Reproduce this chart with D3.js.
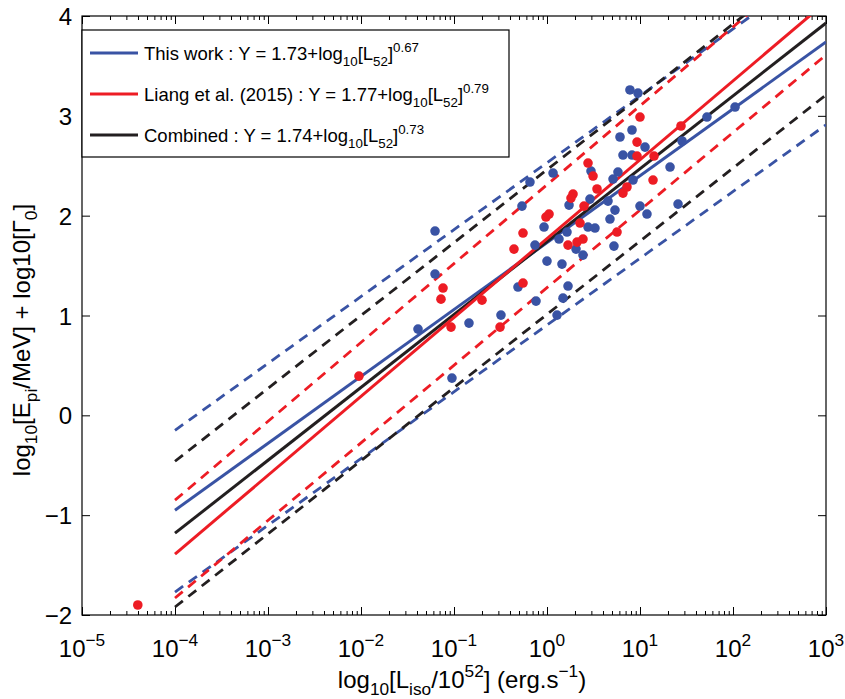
<!DOCTYPE html>
<html><head><meta charset="utf-8">
<script src="https://cdn.jsdelivr.net/npm/d3@7"></script>
<style>body{margin:0;background:#fff}svg{display:block}text{font-family:"Liberation Sans",Arial,Helvetica,sans-serif;fill:#000}</style>
</head><body>
<script>
// ---- data (log10 values) ----
const blueLogL = [-1.204,-1.204,-1.387,-0.839,-1.022,-0.495,-0.312,-0.118,0.108,0.172,0.226,0.0,0.161,-0.129,0.129,0.312,0.387,-0.032,0.215,0.441,0.516,-0.269,0.237,-0.183,0.065,0.473,0.462,0.656,0.677,0.731,0.720,0.763,0.710,0.925,1.0,1.075,0.817,0.914,1.054,0.785,0.914,0.892,0.978,1.323,1.409,1.452,1.720,2.022];
const blueY    = [1.846,1.415,0.864,0.924,0.373,1.004,1.285,1.144,1.004,1.174,1.295,1.545,1.515,1.705,1.766,1.665,1.605,1.886,1.836,1.886,1.876,2.096,2.106,2.337,2.427,2.447,2.166,2.146,1.966,2.056,1.695,2.437,2.367,2.357,2.096,2.016,2.607,2.607,2.687,2.788,2.858,3.259,3.228,2.487,2.116,2.748,2.988,3.088];
const redLogL  = [-4.40,-2.022,-1.118,-1.140,-1.032,-0.699,-0.505,-0.355,-0.258,-0.258,-0.011,0.022,0.226,0.323,0.387,0.355,0.398,0.280,0.258,0.441,0.495,0.538,0.817,0.860,0.753,0.968,1.151,1.140,0.968,1.0,1.441];
const redY     = [-1.90,0.393,1.275,1.164,0.884,1.154,0.884,1.665,1.826,1.325,1.986,2.016,1.705,1.735,1.766,1.926,2.096,2.216,2.176,2.527,2.397,2.267,2.226,2.287,1.836,2.597,2.597,2.357,2.737,2.988,2.898];

const fitNames      = ["This work : Y = 1.73+log", "Liang et al. (2015) : Y = 1.77+log", "Combined : Y = 1.74+log"];
const fitExponents  = ["0.67", "0.79", "0.73"];
const fitIntercepts = [1.73, 1.77, 1.74];
const fitSlopes     = [0.67, 0.79, 0.73];
const fitRange      = [-4, 3];
const bandUpperStart = [-0.15, -0.85, -0.46];
const bandUpperEnd   = [4.54, 4.68, 4.65];
const bandLowerStart = [-1.77, -1.83, -1.92];
const bandLowerEnd   = [2.91, 3.61, 3.21];
const colors = ["#3953A4", "#ED1C24", "#231F20"];
const xTickExps = [-5,-4,-3,-2,-1,0,1,2,3];
const yTicks = [-2,-1,0,1,2,3,4];

// ---- layout ----
const W = 845, H = 699;
const L = 82, R = 826, T = 16, B = 615;
const svg = d3.select("body").append("svg").attr("width", W).attr("height", H);
const x = d3.scaleLog().domain([1e-5, 1e3]).range([L, R]);
const y = d3.scaleLinear().domain([-2, 4]).range([B, T]);

svg.append("defs").append("clipPath").attr("id","clip")
  .append("rect").attr("x", L).attr("y", T).attr("width", R-L).attr("height", B-T);

function rich(textSel, parts, fs) {
  let cur = 0;
  parts.forEach(([t, mode]) => {
    const target = mode === "sub" ? 0.3*fs : mode === "sup" ? -0.45*fs : 0;
    const ts = textSel.append("tspan").text(t).attr("dy", target - cur);
    if (mode !== "n") ts.attr("font-size", fs*0.72);
    cur = target;
  });
}

// ---- axes (ticks inward, box) ----
const allTicks = x.ticks();
const isMajor = v => Math.abs(Math.log10(v) - Math.round(Math.log10(v))) < 1e-9;
const minorTicks = allTicks.filter(v => !isMajor(v));
const majorTicks = xTickExps.map(e => Math.pow(10, e));

function styleAxis(g){ g.select(".domain").remove(); g.selectAll("line").attr("stroke","#000").attr("stroke-width",1); g.selectAll("text").remove(); }
svg.append("g").attr("transform",`translate(0,${B})`).call(d3.axisBottom(x).tickValues(majorTicks).tickSize(-8)).call(styleAxis);
svg.append("g").attr("transform",`translate(0,${B})`).call(d3.axisBottom(x).tickValues(minorTicks).tickSize(-4)).call(styleAxis);
svg.append("g").attr("transform",`translate(0,${T})`).call(d3.axisTop(x).tickValues(majorTicks).tickSize(-8)).call(styleAxis);
svg.append("g").attr("transform",`translate(0,${T})`).call(d3.axisTop(x).tickValues(minorTicks).tickSize(-4)).call(styleAxis);
svg.append("g").attr("transform",`translate(${L},0)`).call(d3.axisLeft(y).tickValues(yTicks).tickSize(-8)).call(styleAxis);
svg.append("g").attr("transform",`translate(${R},0)`).call(d3.axisRight(y).tickValues(yTicks).tickSize(-8)).call(styleAxis);

// tick labels
const fsT = 24;
majorTicks.forEach((v, i) => {
  const t = svg.append("text").attr("x", x(v)).attr("y", B + 42).attr("text-anchor","middle").attr("font-size", fsT);
  rich(t, [["10","n"], [(xTickExps[i] < 0 ? "\u2212" : "") + Math.abs(xTickExps[i]), "sup"]], fsT);
});
yTicks.forEach(v => {
  svg.append("text").attr("x", L - 10).attr("y", y(v) + 9).attr("text-anchor","end").attr("font-size", fsT)
    .text((v < 0 ? "\u2212" : "") + Math.abs(v));
});

// frame
svg.append("rect").attr("x",L).attr("y",T).attr("width",R-L).attr("height",B-T)
  .attr("fill","none").attr("stroke","#000").attr("stroke-width",1.2);

// ---- lines ----
const plot = svg.append("g").attr("clip-path","url(#clip)");
const lineGen = d3.line().x(d => x(Math.pow(10, d[0]))).y(d => y(d[1]));
fitSlopes.forEach((s, i) => {
  plot.append("path").datum([[fitRange[0], bandUpperStart[i]], [fitRange[1], bandUpperEnd[i]]])
    .attr("d", lineGen).attr("fill","none").attr("stroke",colors[i]).attr("stroke-width",2.8).attr("stroke-dasharray","10,7");
  plot.append("path").datum([[fitRange[0], bandLowerStart[i]], [fitRange[1], bandLowerEnd[i]]])
    .attr("d", lineGen).attr("fill","none").attr("stroke",colors[i]).attr("stroke-width",2.8).attr("stroke-dasharray","10,7");
});
[0,2,1].forEach(i => {
  plot.append("path").datum(fitRange.map(v => [v, fitIntercepts[i] + fitSlopes[i]*v]))
    .attr("d", lineGen).attr("fill","none").attr("stroke",colors[i]).attr("stroke-width",3);
});

// ---- points ----
svg.append("g").selectAll("circle").data(blueLogL.map((v,i)=>[v, blueY[i]])).join("circle")
  .attr("cx", d => x(Math.pow(10,d[0]))).attr("cy", d => y(d[1])).attr("r", 4.8).attr("fill", colors[0]);
svg.append("g").selectAll("circle").data(redLogL.map((v,i)=>[v, redY[i]])).join("circle")
  .attr("cx", d => x(Math.pow(10,d[0]))).attr("cy", d => y(d[1])).attr("r", 4.8).attr("fill", colors[1]);

// ---- legend ----
const lg = svg.append("g");
lg.append("rect").attr("x",82).attr("y",30).attr("width",427).attr("height",127)
  .attr("fill","#fff").attr("stroke","#000").attr("stroke-width",1.2);
const fsL = 18.5;
fitNames.forEach((n, i) => {
  const yy = 53 + i*41;
  lg.append("line").attr("x1",90).attr("x2",138).attr("y1",yy).attr("y2",yy).attr("stroke",colors[i]).attr("stroke-width",3);
  const t = lg.append("text").attr("x",144).attr("y",yy+7).attr("font-size",fsL);
  rich(t, [[n,"n"],["10","sub"],["[L","n"],["52","sub"],["]","n"],[fitExponents[i],"sup"]], fsL);
});

// ---- axis titles ----
const fsA = 24;
const xt = svg.append("text").attr("x", 462).attr("y", 688).attr("text-anchor","middle").attr("font-size", fsA);
rich(xt, [["log","n"],["10","sub"],["[L","n"],["iso","sub"],["/10","n"],["52","sup"],["] (erg.s","n"],["\u22121","sup"],[")","n"]], fsA);
const yt = svg.append("text").attr("transform","translate(30,340) rotate(-90)").attr("text-anchor","middle").attr("font-size", fsA);
rich(yt, [["log","n"],["10","sub"],["[E","n"],["pi","sub"],["/MeV] + log10[\u0393","n"],["0","sub"],["]","n"]], fsA);
</script>
</body></html>
